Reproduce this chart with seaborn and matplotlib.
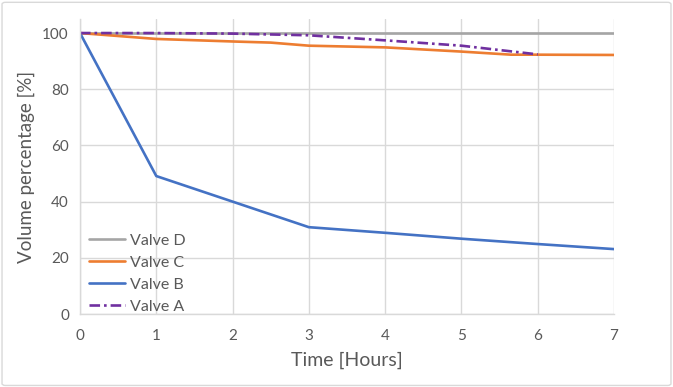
"""
Volume percentage over time for four valves
"""

## Import packages
import pandas as pd
import matplotlib.pyplot as plt
import seaborn as sns
from matplotlib.patches import FancyBboxPatch


## Data
time_d = [0, 1, 2, 3, 4, 5, 6, 7]
vol_d = [100, 100, 100, 100, 100, 100, 100, 100]

time_c = [0, 1, 2, 2.5, 3, 4, 5, 5.65, 6, 7]
vol_c = [100, 97.9, 97.0, 96.6, 95.5, 94.9, 93.4, 92.3, 92.3, 92.2]

time_b = [0, 1, 2, 3, 4, 5, 6, 7]
vol_b = [100, 49.1, 40.0, 30.9, 28.9, 26.8, 24.9, 23.1]

time_a = [0, 1, 2, 3, 4, 5, 6]
vol_a = [100, 100, 99.8, 99.2, 97.4, 95.5, 92.4]

valves = ['Valve D', 'Valve C', 'Valve B', 'Valve A']
colors = ['#A5A5A5', '#ED7D31', '#4472C4', '#7030A0']

x_ticks = [0, 1, 2, 3, 4, 5, 6, 7]
y_ticks = [0, 20, 40, 60, 80, 100]


## Build long dataframe
frames = []
for name, t, v in zip(valves, [time_d, time_c, time_b, time_a], [vol_d, vol_c, vol_b, vol_a]):
    frames.append(pd.DataFrame({'time': t, 'volume': v, 'valve': name}))
df = pd.concat(frames, ignore_index=True)


## Figure setup
sns.set_theme(style='white')
plt.rcParams['font.family'] = ['Lato', 'DejaVu Sans']
text_col = '#595959'
grid_col = '#D9D9D9'

fig = plt.figure(figsize=(6.73, 3.87), dpi=100)
ax = fig.add_axes([80 / 673, 1 - 314 / 387, (614 - 80) / 673, (314 - 19) / 387])

# Light border around the whole chart
fig.patches.append(FancyBboxPatch((0.003, 0.004), 0.994, 0.99, boxstyle='round,pad=0,rounding_size=0.005',
                                  transform=fig.transFigure, facecolor='none', edgecolor=grid_col, linewidth=1))

## Plot lines
sns.lineplot(ax=ax, data=df, x='time', y='volume', hue='valve', hue_order=valves,
             palette=dict(zip(valves, colors)), style='valve', style_order=valves,
             dashes={'Valve D': '', 'Valve C': '', 'Valve B': '', 'Valve A': (4, 1.5, 1, 1.5)},
             estimator=None, linewidth=1.9)

## Axes styling
ax.set_xlim(0, 7)
ax.set_ylim(0, 105)
ax.set_xticks(x_ticks)
ax.set_yticks(y_ticks)
ax.tick_params(axis='both', length=0, labelsize=11, labelcolor=text_col)
ax.tick_params(axis='x', pad=11)
ax.tick_params(axis='y', pad=8)
ax.grid(True, color=grid_col, linewidth=1)
ax.set_axisbelow(True)
for side in ['top', 'right']:
    ax.spines[side].set_visible(False)
for side in ['left', 'bottom']:
    ax.spines[side].set_color(grid_col)
    ax.spines[side].set_linewidth(1)

ax.set_xlabel('Time [Hours]', fontsize=14, color=text_col, labelpad=6)
ax.set_ylabel('Volume percentage [%]', fontsize=13.5, color=text_col, labelpad=5)

## Legend in lower left without frame
leg = ax.legend(loc='lower left', bbox_to_anchor=(0.017, 0.0), frameon=False, fontsize=11.5,
                borderaxespad=0, borderpad=0, handlelength=2.25, handletextpad=0.3,
                labelspacing=0.5)
for txt in leg.get_texts():
    txt.set_color(text_col)

plt.savefig('out.png', dpi=100)
